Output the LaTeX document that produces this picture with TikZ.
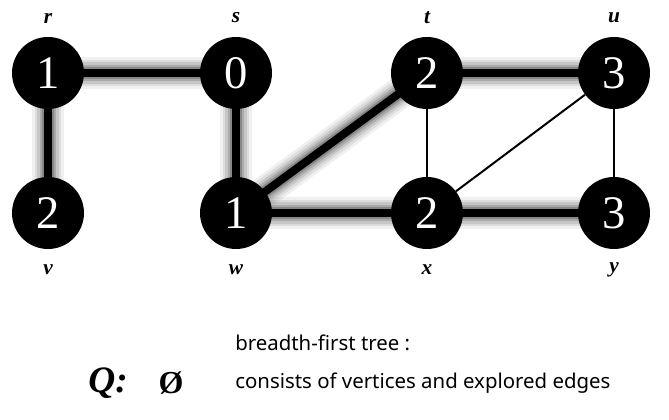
\documentclass[tikz,border=0pt]{standalone}
\usepackage{fontspec}
\setmainfont{Liberation Serif}
\newfontfamily\notefont{Noto Sans}
\usetikzlibrary{backgrounds}

\begin{document}
\begin{tikzpicture}[x=0.75pt,y=-0.75pt,
  vertex/.style={circle,fill=black,minimum size=54pt,inner sep=0pt,text=white,font=\rmfamily\fontsize{35}{35}\selectfont},
  vname/.style={font=\fontsize{16}{16}\selectfont\bfseries\itshape},
  treeedge/.style={line width=6pt,
    preaction={draw,opacity=0.06,line width=24pt},
    preaction={draw,opacity=0.08,line width=20pt},
    preaction={draw,opacity=0.1,line width=16pt},
    preaction={draw,opacity=0.14,line width=12.5pt},
    preaction={draw,opacity=0.2,line width=9pt}},
  otheredge/.style={line width=1.5pt},
  note/.style={anchor=west,inner sep=0pt,font=\notefont\fontsize{15.3}{18}\selectfont}]
\useasboundingbox (0,0) rectangle (669,420);
% vertices with their distances
\foreach \v/\px/\py/\d/\ly in {r/48/73/1/18,s/236/73/0/18,t/427/73/2/18,u/614/73/3/18,v/48/213/2/270,w/236/213/1/270,x/427/213/2/270,y/614/213/3/270} {
  \node[vertex] (\v) at (\px,\py) {\d};
  \node[vname] (l\v) at (\px,\ly) {\v};
}

% edges (tree edges glow)
\begin{scope}[on background layer]
\draw[treeedge] (r.center) -- (s.center);
\draw[treeedge] (r.center) -- (v.center);
\draw[treeedge] (s.center) -- (w.center);
\draw[treeedge] (w.center) -- (t.center);
\draw[treeedge] (w.center) -- (x.center);
\draw[treeedge] (t.center) -- (u.center);
\draw[treeedge] (x.center) -- (y.center);
\draw[otheredge] (t) -- (x);
\draw[otheredge] (x) -- (u);
\draw[otheredge] (u) -- (y);
\end{scope}

% queue and note
\node[font=\fontsize{28}{28}\selectfont\bfseries\itshape] (q) at (108,383) {Q:};
\node[font=\fontsize{24}{24}\selectfont\bfseries] (empty) at (171,383) {Ø};
\node[note] (bft) at (235,343) {breadth-first tree :};
\node[note] (cons) at (235,383) {consists of vertices and explored edges};
\end{tikzpicture}
\end{document}
